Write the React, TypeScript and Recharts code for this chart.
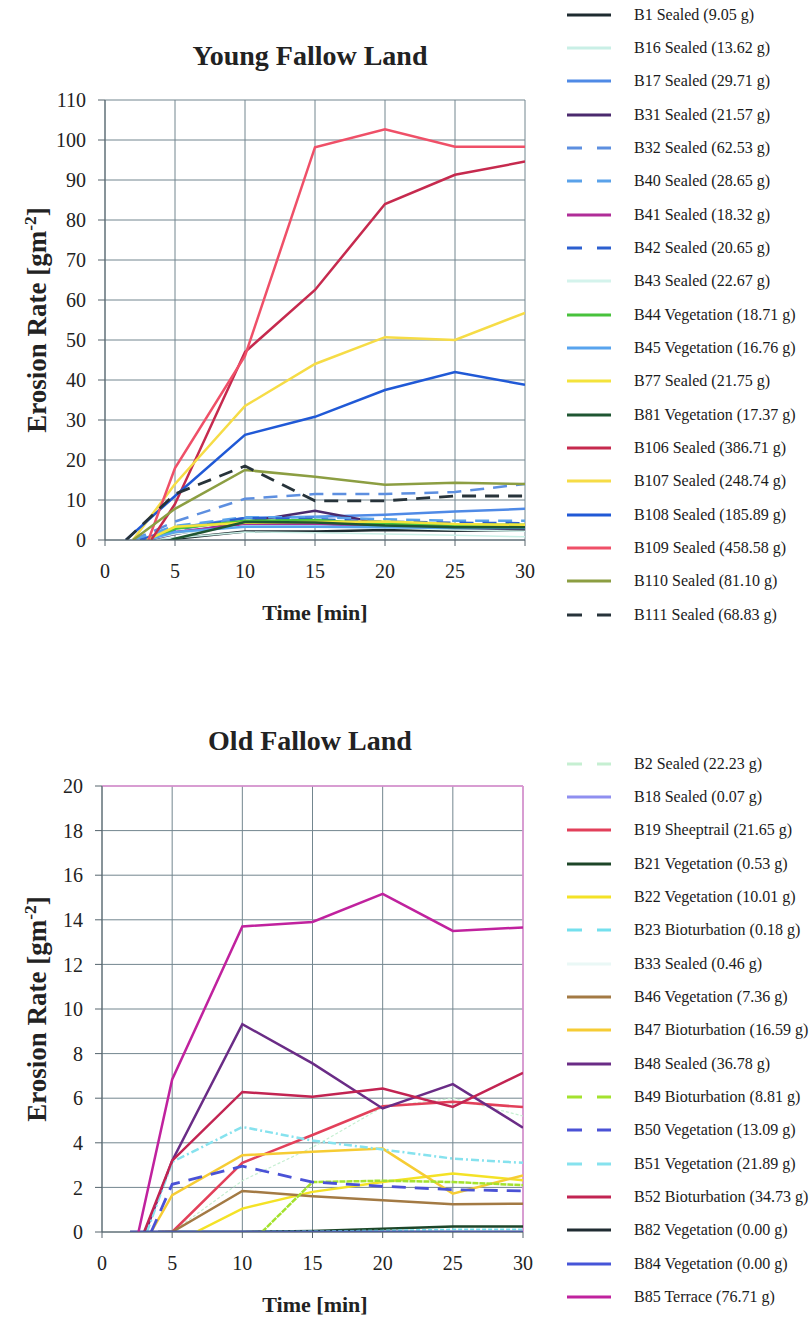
import { LineChart, Line, XAxis, YAxis, CartesianGrid, ReferenceLine } from "recharts";

const FONT = '"Liberation Serif", "Times New Roman", serif';

const TIMES = [5, 10, 15, 20, 25, 30];
const X_TICKS = [0, 5, 10, 15, 20, 25, 30];
const YOUNG_Y_TICKS = [0, 10, 20, 30, 40, 50, 60, 70, 80, 90, 100, 110];
const OLD_Y_TICKS = [0, 2, 4, 6, 8, 10, 12, 14, 16, 18, 20];

// ---- Young fallow land (erosion rate at TIMES, null = no runoff yet)
const B1 = [0.3, 2.1, 2.1, 2.5, 2.3, 2.5];
const B16 = [0.5, 2, 1.8, 1.5, 1.2, 0.8];
const B17 = [3, 5.5, 5.8, 6.3, 7.1, 7.8];
const B31 = [1.5, 4.5, 7.3, 4, 3.5, 3.5];
const B32 = [4.6, 10.3, 11.5, 11.5, 12, 14];
const B40 = [3.5, 5.7, 5.7, 5.2, 4.8, 4.8];
const B41 = [2, 4, 4, 3.3, 3, 3];
const B42 = [2.5, 5.5, 5.2, 4.6, 4.3, 4.2];
const B43 = [1.5, 3.5, 3.5, 3, 2.5, 2.2];
const B44 = [2.8, 4.8, 5, 4, 3.8, 3.8];
const B45 = [2, 3.3, 3.3, 3.2, 3, 3];
const B77 = [3.3, 4.3, 4.5, 4.6, 4, 3.8];
const B81 = [0.3, 4.5, 4.4, 3.6, 3.2, 3.2];
const B106 = [9, 47, 62.5, 84, 91.3, 94.6];
const B107 = [14, 33.5, 44, 50.7, 50, 56.8];
const B108 = [11, 26.3, 30.8, 37.5, 42, 38.8];
const B109 = [18, 46, 98.2, 102.7, 98.3, 98.3];
const B110 = [7.8, 17.5, 15.8, 13.8, 14.3, 14];
const B111 = [11.5, 18.5, 9.8, 9.8, 11, 11];

const YOUNG_NAMES = [
  "B1 Sealed (9.05 g)", "B16 Sealed (13.62 g)", "B17 Sealed (29.71 g)", "B31 Sealed (21.57 g)",
  "B32 Sealed (62.53 g)", "B40 Sealed (28.65 g)", "B41 Sealed (18.32 g)", "B42 Sealed (20.65 g)",
  "B43 Sealed (22.67 g)", "B44 Vegetation (18.71 g)", "B45 Vegetation (16.76 g)", "B77 Sealed (21.75 g)",
  "B81 Vegetation (17.37 g)", "B106 Sealed (386.71 g)", "B107 Sealed (248.74 g)", "B108 Sealed (185.89 g)",
  "B109 Sealed (458.58 g)", "B110 Sealed (81.10 g)", "B111 Sealed (68.83 g)",
];
const YOUNG_START = [4, 3, 2.5, 3, 2, 2, 3, 2.5, 3, 3, 3, 3, 4.7, 3.3, 2, 1.5, 3.1, 2, 1.5];
const YOUNG_VALUES = [B1, B16, B17, B31, B32, B40, B41, B42, B43, B44, B45, B77, B81, B106, B107, B108, B109, B110, B111];

// ---- Old fallow land
const B2 = [0, 2.3, 3.8, 5.6, 6, 5.2];
const B18 = [0, 0, 0, 0, 0, 0];
const B19 = [0, 3.1, 4.35, 5.64, 5.84, 5.6];
const B21 = [0, 0, 0.05, 0.15, 0.25, 0.25];
const B22 = [null, 1.05, 1.8, 2.24, 2.62, 2.32];
const B23 = [0, 0, 0.02, 0.05, 0.1, 0.1];
const B33 = [0, 0, 0, 0, 0.05, 0.05];
const B46 = [0, 1.84, 1.6, 1.42, 1.24, 1.27];
const B47 = [1.65, 3.44, 3.6, 3.74, 1.72, 2.54];
const B48 = [3.2, 9.32, 7.56, 5.54, 6.63, 4.68];
const B49 = [null, null, 2.24, 2.3, 2.24, 2.1];
const B50 = [2.14, 2.95, 2.24, 2.05, 1.9, 1.84];
const B51 = [3.14, 4.71, 4.1, 3.7, 3.29, 3.1];
const B52 = [3.2, 6.28, 6.06, 6.43, 5.61, 7.14];
const B82 = [0, 0, 0, 0, 0, 0];
const B84 = [0, 0, 0, 0, 0, 0];
const B85 = [6.84, 13.7, 13.9, 15.16, 13.5, 13.66];

const OLD_NAMES = [
  "B2 Sealed (22.23 g)", "B18 Sealed (0.07 g)", "B19 Sheeptrail (21.65 g)", "B21 Vegetation (0.53 g)",
  "B22 Vegetation (10.01 g)", "B23 Bioturbation (0.18 g)", "B33 Sealed (0.46 g)", "B46 Vegetation (7.36 g)",
  "B47 Bioturbation (16.59 g)", "B48 Sealed (36.78 g)", "B49 Bioturbation (8.81 g)", "B50 Vegetation (13.09 g)",
  "B51 Vegetation (21.89 g)", "B52 Bioturbation (34.73 g)", "B82 Vegetation (0.00 g)", "B84 Vegetation (0.00 g)",
  "B85 Terrace (76.71 g)",
];
const OLD_START = [4, 2, 4, 4, 6.7, 4, 4, 4.5, 3.5, 3.1, 11.4, 3.5, 3.2, 3, 2, 2, 2.6];
const OLD_VALUES = [B2, B18, B19, B21, B22, B23, B33, B46, B47, B48, B49, B50, B51, B52, B82, B84, B85];

type Style = { color: string; w: number; dash?: string };

const YOUNG_STYLE: Style[] = [
  { color: "#1e2b30", w: 2.5 },
  { color: "#c9efe6", w: 1.5 },
  { color: "#4f8ae6", w: 2.5 },
  { color: "#4b2a6e", w: 2.5 },
  { color: "#5d8fe0", w: 2.5, dash: "14 9" },
  { color: "#5aa2ea", w: 2.5, dash: "14 9" },
  { color: "#b02d98", w: 2.5 },
  { color: "#2c5fcf", w: 2.5, dash: "14 9" },
  { color: "#d4f3ec", w: 1.5 },
  { color: "#48c23c", w: 2.5 },
  { color: "#58a4ee", w: 2.5 },
  { color: "#f4e33c", w: 2.5 },
  { color: "#1f5632", w: 2.5 },
  { color: "#c62a4e", w: 2.5 },
  { color: "#f6dc46", w: 2.5 },
  { color: "#2059d6", w: 2.5 },
  { color: "#ef5068", w: 2.5 },
  { color: "#8c9e42", w: 2.5 },
  { color: "#27333a", w: 2.8, dash: "14 9" },
];

const OLD_STYLE: Style[] = [
  { color: "#c6efd2", w: 1.2, dash: "3 2" },
  { color: "#8f8ff0", w: 2.5 },
  { color: "#e2405a", w: 2.5 },
  { color: "#1d4628", w: 2.5 },
  { color: "#f4e226", w: 2.5 },
  { color: "#74e0ee", w: 2.5, dash: "4 2" },
  { color: "#eaf8f6", w: 1.5 },
  { color: "#a37a44", w: 2.5 },
  { color: "#f6cc34", w: 2.5 },
  { color: "#6a2c86", w: 2.5 },
  { color: "#a4e22e", w: 2.5, dash: "6 1" },
  { color: "#4a52d6", w: 2.8, dash: "14 9" },
  { color: "#86e2ee", w: 2.5, dash: "8 3 2 3" },
  { color: "#c22452", w: 2.5 },
  { color: "#202c32", w: 2.5 },
  { color: "#4655d8", w: 2.5 },
  { color: "#c0229e", w: 2.5 },
];

const series = (start: number, vals: (number | null)[]) => [
  { t: start, v: 0 },
  ...TIMES.map((t, i) => ({ t, v: vals[i] })).filter((p) => p.v !== null && p.t > start),
];

const tickStyle = { fontSize: 20, fill: "#222", fontFamily: FONT };
const AXIS = "#56646d";
const GRID = "#73868f";

function Legend({ names, styles, top }: { names: string[]; styles: Style[]; top: number }) {
  return (
    <div style={{ position: "absolute", left: 567, top, fontFamily: FONT, fontSize: 16, color: "#1a1a1a" }}>
      {names.map((n, i) => (
        <div key={n} style={{ height: 33.33, display: "flex", alignItems: "center" }}>
          <svg width={44} height={8} style={{ marginRight: 23 }}>
            <line x1={0} y1={4} x2={44} y2={4} stroke={styles[i].color} strokeWidth={3} strokeDasharray={styles[i].dash ? "15 15" : undefined} />
          </svg>
          <span>{n}</span>
        </div>
      ))}
    </div>
  );
}

function Titles({ title, top, plotTop, plotBottom }: { title: string; top: number; plotTop: number; plotBottom: number }) {
  const mid = (plotTop + plotBottom) / 2;
  return (
    <>
      <div style={{ position: "absolute", left: 100, width: 420, top, textAlign: "center", fontFamily: FONT, fontWeight: "bold", fontSize: 28, lineHeight: "32px", color: "#222" }}>
        {title}
      </div>
      <div style={{ position: "absolute", left: 215, width: 200, top: plotBottom + 59, textAlign: "center", fontFamily: FONT, fontWeight: "bold", fontSize: 22, lineHeight: "28px", color: "#222" }}>
        Time [min]
      </div>
      <div style={{ position: "absolute", left: 30 - 160, width: 320, top: mid - 16, height: 32, lineHeight: "32px", textAlign: "center", transform: "rotate(-90deg)", fontFamily: FONT, fontWeight: "bold", fontSize: 27, color: "#222", whiteSpace: "nowrap" }}>
        Erosion Rate [gm<sup style={{ fontSize: "0.65em" }}>-2</sup>]
      </div>
    </>
  );
}

export default function App() {
  return (
    <div style={{ position: "absolute", left: 0, top: 0, width: 809, height: 1328, background: "#fff", overflow: "hidden" }}>
      <div style={{ position: "absolute", left: 0, top: 0 }}>
        <LineChart width={809} height={640} margin={{ top: 100, right: 284, bottom: 60, left: 45 }}>
          <CartesianGrid stroke={GRID} strokeOpacity={1} />
          <XAxis type="number" dataKey="t" domain={[0, 30]} ticks={X_TICKS} interval={0} height={40}
            tick={tickStyle} tickSize={6} tickMargin={18} stroke={AXIS} allowDataOverflow />
          <YAxis type="number" domain={[0, 110]} ticks={YOUNG_Y_TICKS} interval={0} width={60}
            tick={tickStyle} tickSize={7} tickMargin={12} stroke={AXIS} allowDataOverflow />
          {YOUNG_VALUES.map((vals, i) => (
            <Line key={YOUNG_NAMES[i]} data={series(YOUNG_START[i], vals)} dataKey="v" type="linear"
              stroke={YOUNG_STYLE[i].color} strokeWidth={YOUNG_STYLE[i].w} strokeDasharray={YOUNG_STYLE[i].dash}
              dot={false} activeDot={false} isAnimationActive={false} name={YOUNG_NAMES[i]} />
          ))}
        </LineChart>
      </div>
      <Titles title="Young Fallow Land" top={40} plotTop={100} plotBottom={540} />
      <Legend names={YOUNG_NAMES} styles={YOUNG_STYLE} top={-2} />

      <div style={{ position: "absolute", left: 0, top: 680 }}>
        <LineChart width={809} height={640} margin={{ top: 106, right: 286, bottom: 48, left: 42 }}>
          <CartesianGrid stroke={GRID} strokeOpacity={1} />
          <XAxis type="number" dataKey="t" domain={[0, 30]} ticks={X_TICKS} interval={0} height={40}
            tick={tickStyle} tickSize={6} tickMargin={18} stroke={AXIS} allowDataOverflow />
          <YAxis type="number" domain={[0, 20]} ticks={OLD_Y_TICKS} interval={0} width={60}
            tick={tickStyle} tickSize={7} tickMargin={12} stroke={AXIS} allowDataOverflow />
          <ReferenceLine y={20} stroke="#e391d6" strokeWidth={1.5} />
          <ReferenceLine x={30} stroke="#e391d6" strokeWidth={1.5} />
          {OLD_VALUES.map((vals, i) => (
            <Line key={OLD_NAMES[i]} data={series(OLD_START[i], vals)} dataKey="v" type="linear"
              stroke={OLD_STYLE[i].color} strokeWidth={OLD_STYLE[i].w} strokeDasharray={OLD_STYLE[i].dash}
              dot={false} activeDot={false} isAnimationActive={false} name={OLD_NAMES[i]} />
          ))}
        </LineChart>
      </div>
      <Titles title="Old Fallow Land" top={725} plotTop={786} plotBottom={1232} />
      <Legend names={OLD_NAMES} styles={OLD_STYLE} top={747} />
    </div>
  );
}
